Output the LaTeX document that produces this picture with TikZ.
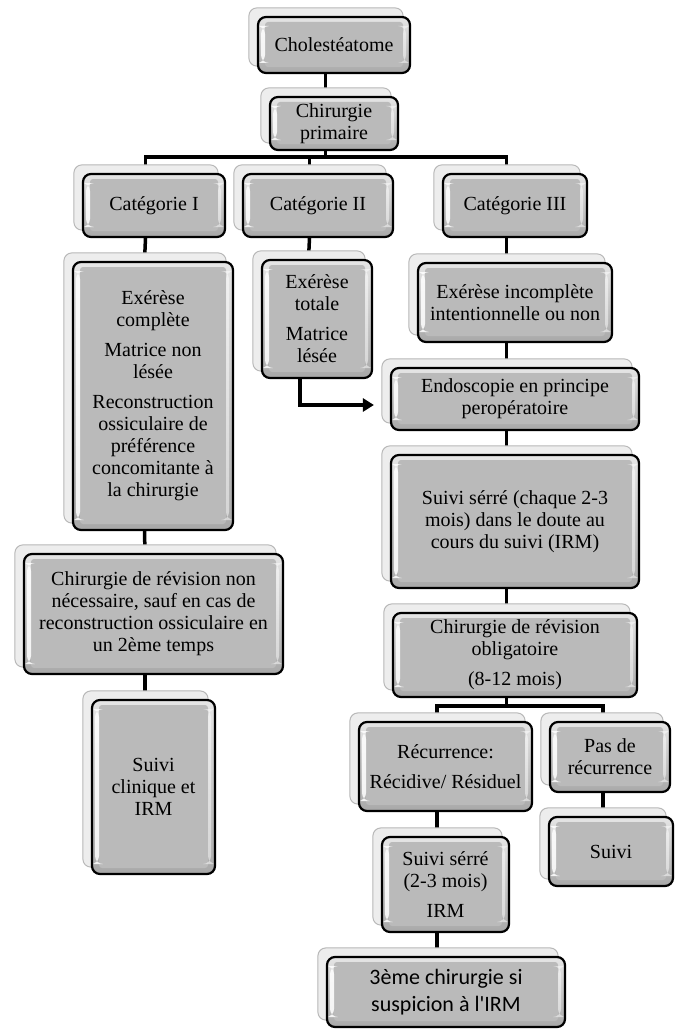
\documentclass[tikz,border=0pt]{standalone}
\usepackage{fontspec}
\setmainfont{Liberation Serif}
\newfontfamily\calib{Carlito}
\usetikzlibrary{backgrounds,arrows.meta}
\newcommand\fsz{\fontsize{20}{22}\selectfont}
\newcommand\fszc{\calib\fontsize{22}{27}\selectfont}
\begin{document}
\begin{tikzpicture}[x=1pt,y=-1pt,
  box/.style={draw=black, line width=2.2pt, rounded corners=8pt,
    top color=black!10, bottom color=black!34, inner sep=0pt, align=center, font=\fsz,
    path picture={
      \fill[black!27, rounded corners=3pt]
        ([shift={(7pt,-5pt)}]path picture bounding box.north west) rectangle
        ([shift={(-7pt,6pt)}]path picture bounding box.south east);
      \fill[white, opacity=.85]
        ([shift={(3pt,-9pt)}]path picture bounding box.north west) rectangle
        ([shift={(7pt,10pt)}]path picture bounding box.south west);
      \fill[white, opacity=.5]
        ([shift={(-7pt,-9pt)}]path picture bounding box.north east) rectangle
        ([shift={(-4pt,10pt)}]path picture bounding box.south east);
    }},
  sz/.style 2 args={minimum width=#1pt, minimum height=#2pt},
  conn/.style={line width=3.5pt, draw=black},
  backbox/.style={fill=black!7, draw=black!28, line width=1pt, rounded corners=8pt}]
\useasboundingbox (0,0) rectangle (675,1030);

% nodes
\node[box, sz={152}{56}] (chol) at (334,45) {Cholestéatome};
\node[box, sz={128}{53}] (prim) at (334,123.5) {Chirurgie\\primaire};
\node[box, sz={142}{63}] (cat1) at (154,205.5) {Catégorie I};
\node[box, sz={150}{63}] (cat2) at (318,205.5) {Catégorie II};
\node[box, sz={144}{63}] (cat3) at (515,205.5) {Catégorie III};
\node[box, sz={160}{268}] (d1) at (153,396) {Exérèse\\complète\\[8pt]Matrice non\\lésée\\[8pt]Reconstruction\\ossiculaire de\\préférence\\concomitante à\\la chirurgie};
\node[box, sz={110}{118}] (d2) at (317,319) {Exérèse\\totale\\[8pt]Matrice\\lésée};
\node[box, sz={194}{79}] (d3) at (515,302.5) {Exérèse incomplète\\intentionnelle ou non};
\node[box, sz={248}{62}] (endo) at (515,399) {Endoscopie en principe\\peropératoire};
\node[box, sz={248}{133}] (suivi1) at (515,521.5) {Suivi sérré (chaque 2-3\\mois) dans le doute au\\cours du suivi (IRM)};
\node[box, sz={244}{84}] (oblig) at (515,655) {Chirurgie de révision\\obligatoire\\[8pt](8-12 mois)};
\node[box, sz={173}{89}] (rec) at (445.5,766.5) {Récurrence:\\[8pt]Récidive/ Résiduel};
\node[box, sz={120}{70}] (pas) at (610,757) {Pas de\\récurrence};
\node[box, sz={124}{69}] (suivi2) at (611,851.5) {Suivi};
\node[box, sz={127}{95}] (ss) at (445.5,884.5) {Suivi sérré\\(2-3 mois)\\[8pt]IRM};
\node[box, sz={238}{70}, font=\fszc] (third) at (446,992) {3ème chirurgie si\\suspicion à l'IRM};
\node[box, sz={259}{120}] (nonnec) at (153.5,614) {Chirurgie de révision non\\nécessaire, sauf en cas de\\reconstruction ossiculaire en\\un 2ème temps};
\node[box, sz={123}{174}] (clin) at (153.5,787) {Suivi\\clinique et\\IRM};

\begin{pgfonlayer}{background}
\fill[white] (0,0) rectangle (675,1030);
% connectors
\draw[conn] ([xshift=-8.5pt]chol.south) -- ([xshift=-8.5pt]prim.north);
\draw[conn] ([xshift=-8.5pt]prim.south) -- ++(0,6) -| ([xshift=-8.5pt]cat1.north);
\draw[conn] ([xshift=-8.5pt]prim.south) -- ++(0,6) -| ([xshift=-8.5pt]cat2.north);
\draw[conn] ([xshift=-8.5pt]prim.south) -- ++(0,6) -| ([xshift=-8.5pt]cat3.north);
\draw[conn] ([xshift=-8.5pt]cat1.south) -- ([xshift=-8.5pt]d1.north);
\draw[conn] ([xshift=-8.5pt]d1.south) -- ([xshift=-8.5pt]nonnec.north);
\draw[conn] ([xshift=-8.5pt]nonnec.south) -- ([xshift=-8.5pt]clin.north);
\draw[conn] ([xshift=-8.5pt]cat2.south) -- ([xshift=-8.5pt]d2.north);
\draw[conn] ([xshift=-8.5pt]cat3.south) -- ([xshift=-8.5pt]d3.north);
\draw[conn] ([xshift=-8.5pt]d3.south) -- ([xshift=-8.5pt]endo.north);
\draw[conn] ([xshift=-8.5pt]endo.south) -- ([xshift=-8.5pt]suivi1.north);
\draw[conn] ([xshift=-8.5pt]suivi1.south) -- ([xshift=-8.5pt]oblig.north);
\draw[conn] ([xshift=-8.5pt]oblig.south) -- ++(0,8) -| ([xshift=-8.5pt]rec.north);
\draw[conn] ([xshift=-8.5pt]oblig.south) -- ++(0,8) -| ([xshift=-7pt]pas.north);
\draw[conn] ([xshift=-7pt]pas.south) -- ([xshift=-8pt]suivi2.north);
\draw[conn] ([xshift=-8.5pt]rec.south) -- ([xshift=-8.5pt]ss.north);
\draw[conn] ([xshift=-8.5pt]ss.south) -- ([xshift=-9pt]third.north);
\draw[conn, -{Triangle[length=11pt,width=13pt]}] ([xshift=-17pt]d2.south) |- ([xshift=-16pt,yshift=-6pt]endo.west);
% back copies
\foreach \n in {chol,prim,cat1,cat2,cat3,d1,d2,d3,endo,suivi1,oblig,rec,pas,suivi2,ss,third,nonnec,clin}
  \draw[backbox] ([shift={(-8pt,8pt)}]\n.north west) rectangle ([shift={(-8pt,8pt)}]\n.south east);
\end{pgfonlayer}
\end{tikzpicture}
\end{document}
